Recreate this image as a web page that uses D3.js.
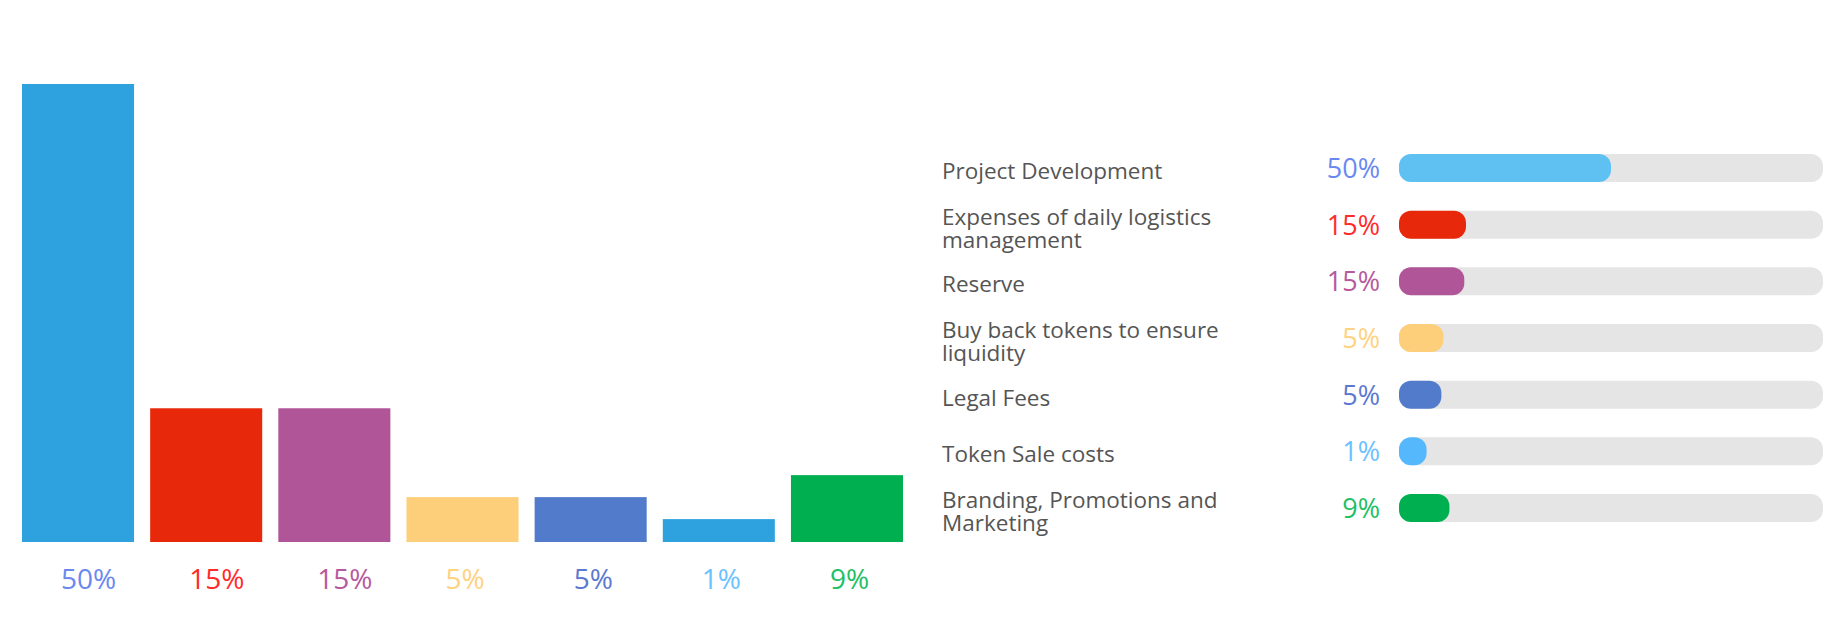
<!DOCTYPE html>
<html>
<head>
<meta charset="utf-8">
<script src="https://cdn.jsdelivr.net/npm/d3@7/dist/d3.min.js"></script>
<style>
  html, body { margin: 0; padding: 0; background: #ffffff; }
  svg { display: block; }
  text { font-family: "Open Sans", "Noto Sans", sans-serif; }
</style>
</head>
<body>
<svg id="chart" width="1837" height="642"></svg>
<script>
// ---- data ----
const categories = [
  "Project Development",
  "Expenses of daily logistics management",
  "Reserve",
  "Buy back tokens to ensure liquidity",
  "Legal Fees",
  "Token Sale costs",
  "Branding, Promotions and Marketing"
];
const categoryLines = [
  ["Project Development"],
  ["Expenses of daily logistics", "management"],
  ["Reserve"],
  ["Buy back tokens to ensure", "liquidity"],
  ["Legal Fees"],
  ["Token Sale costs"],
  ["Branding, Promotions and", "Marketing"]
];
const percentLabels = ["50%", "15%", "15%", "5%", "5%", "1%", "9%"];
// bar heights as drawn in the left chart (percent units)
const columnValues = [50, 14.6, 14.6, 4.9, 4.9, 2.5, 7.3];
// progress fill as drawn in the right list (percent of track)
const progressValues = [50, 15.8, 15.4, 10.5, 10, 6.5, 11.9];
const columnColors = ["#2ea2de", "#e8280a", "#b15599", "#fecf7a", "#527bcc", "#2ea2de", "#00b050"];
const progressColors = ["#5ec1f2", "#e8280a", "#b15599", "#fecf7a", "#527bcc", "#55b8fc", "#00b050"];
const labelColors = ["#6a88f0", "#ff2b2b", "#b65aa0", "#ffd27f", "#5d78cf", "#6cc2ff", "#22c064"];

// ---- left: column chart ----
const svg = d3.select("#chart");
const x = d3.scaleBand().domain(d3.range(categories.length)).range([22, 903]).paddingInner(0.1257).paddingOuter(0);
const y = d3.scaleLinear().domain([0, 50]).range([542, 84]);

const left = svg.append("g");
left.selectAll("rect.col")
  .data(columnValues)
  .join("rect")
  .attr("class", "col")
  .attr("x", (d, i) => x(i))
  .attr("y", d => y(d))
  .attr("width", x.bandwidth())
  .attr("height", d => y(0) - y(d))
  .attr("fill", (d, i) => columnColors[i]);

left.selectAll("text.collabel")
  .data(percentLabels)
  .join("text")
  .attr("class", "collabel")
  .attr("x", (d, i) => x(i) + 39)
  .attr("y", 589)
  .attr("font-size", 28)
  .attr("fill", (d, i) => labelColors[i])
  .text(d => d);

// ---- right: progress list ----
const rowY = d3.scalePoint().domain(d3.range(categories.length)).range([168, 508]);
const trackX = d3.scaleLinear().domain([0, 100]).range([1399, 1823]);
const trackH = 28;

const right = svg.append("g");
const rows = right.selectAll("g.row")
  .data(categories)
  .join("g")
  .attr("class", "row")
  .attr("transform", (d, i) => `translate(0,${rowY(i)})`);

rows.append("rect")
  .attr("x", trackX(0))
  .attr("y", -trackH / 2)
  .attr("width", trackX(100) - trackX(0))
  .attr("height", trackH)
  .attr("rx", 12)
  .attr("fill", "#e5e5e5");

rows.append("rect")
  .attr("x", trackX(0))
  .attr("y", -trackH / 2)
  .attr("width", (d, i) => trackX(progressValues[i]) - trackX(0))
  .attr("height", trackH)
  .attr("rx", 12)
  .attr("fill", (d, i) => progressColors[i]);

rows.append("text")
  .attr("x", 1380)
  .attr("y", 10)
  .attr("text-anchor", "end")
  .attr("font-size", 27)
  .attr("fill", (d, i) => labelColors[i])
  .text((d, i) => percentLabels[i]);

rows.each(function(d, i) {
  const lines = categoryLines[i];
  const t = d3.select(this).append("text")
    .attr("x", 942)
    .attr("font-size", 22.5)
    .attr("fill", "#555555");
  const startY = lines.length === 1 ? 11 : 0;
  lines.forEach((ln, k) => {
    t.append("tspan").attr("x", 942).attr("y", startY + k * 23).text(ln);
  });
});
</script>
</body>
</html>
